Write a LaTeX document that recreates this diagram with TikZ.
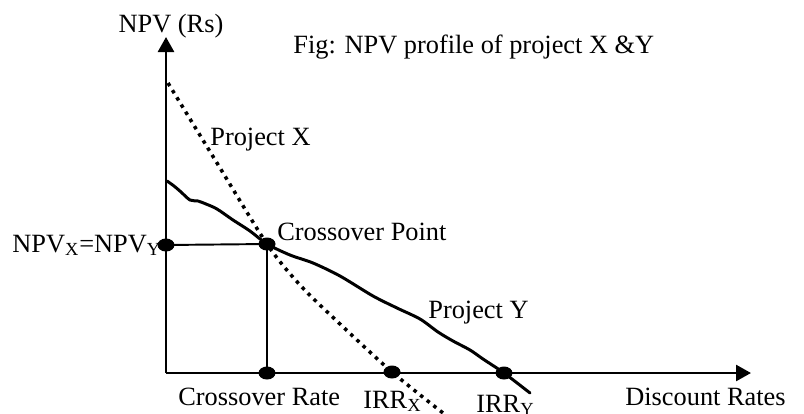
\documentclass[tikz,border=0pt]{standalone}
\usepackage{fontspec}
\setmainfont{Liberation Serif}
\usetikzlibrary{arrows.meta,positioning,shapes}

\begin{document}
\begin{tikzpicture}[
x=0.02cm,
y=-0.02cm,
every node/.style={
inner sep=0pt,
font=\fontsize{15}{18}\selectfont
},
bigdot/.style={ellipse,fill=black,minimum width=0.34cm,minimum height=0.26cm},
axis/.style={-{Triangle[length=0.3cm,width=0.32cm]},line width=1.5pt},
guide/.style={line width=1.1pt},
projX/.style={line width=2pt,dash pattern=on 2pt off 2.8pt},
projY/.style={line width=1.7pt,line join=round,line cap=round}
]
\useasboundingbox (0,0) rectangle (804,413);

% axes
\coordinate (O) at (166,373);
\coordinate (ytop) at (166,37);
\coordinate (xend) at (751,373);

% marked points
\node[bigdot] (npv) at (166,245) {};
\node[bigdot] (cross) at (267,244) {};
\node[bigdot] (crate) at (267,373) {};
\node[bigdot] (irrx) at (392,372) {};
\node[bigdot] (irry) at (504,373) {};

% curve end points
\coordinate (xstart) at (168,83);
\coordinate (xend2) at (443,413);
\coordinate (ystart) at (167,181);
\coordinate (yend) at (530,393);

\draw[axis] (O) -- (ytop);
\draw[axis] (O) -- (xend);
\draw[guide] (npv.center) -- (cross.center) -- (crate.center);

% project X
\draw[projX] plot[smooth,tension=0.5] coordinates {(xstart) (217,163) (cross.center) (300,285) (340,324) (irrx.center) (xend2)};

% project Y
\draw[projY] plot[smooth,tension=0.5] coordinates {(ystart) (174,186) (181,192) (190,200) (198,201) (206,204) (217,209) (233,220) (250,231) (cross.center) (290,255) (313,263) (340,276) (373,296) (397,308) (420,319) (438,332) (453,341) (470,350) (483,359) (irry.center) (yend)};

% labels
\node[anchor=base] (npvlab) at (171,32) {NPV (Rs)};
\node[anchor=base west] (title) at (293,53) {Fig: NPV profile of project X \&Y};
\node[anchor=base west] (xlab) at (210,145) {Project X};
\node[anchor=base west] (eqlab) at (12,252) {NPV\textsubscript{X}=NPV\textsubscript{Y}};
\node[anchor=base west] (crosslab) at (277,240) {Crossover Point};
\node[anchor=base west] (ylab) at (428,318) {Project Y};
\node[anchor=base west] (cratelab) at (178,405) {Crossover Rate};
\node[anchor=base west] (irrxlab) at (363,408) {IRR\textsubscript{X}};
\node[anchor=base west] (irrylab) at (476,412) {IRR\textsubscript{Y}};
\node[anchor=base west] (ratelab) at (625,405) {Discount Rates};
\end{tikzpicture}
\end{document}
